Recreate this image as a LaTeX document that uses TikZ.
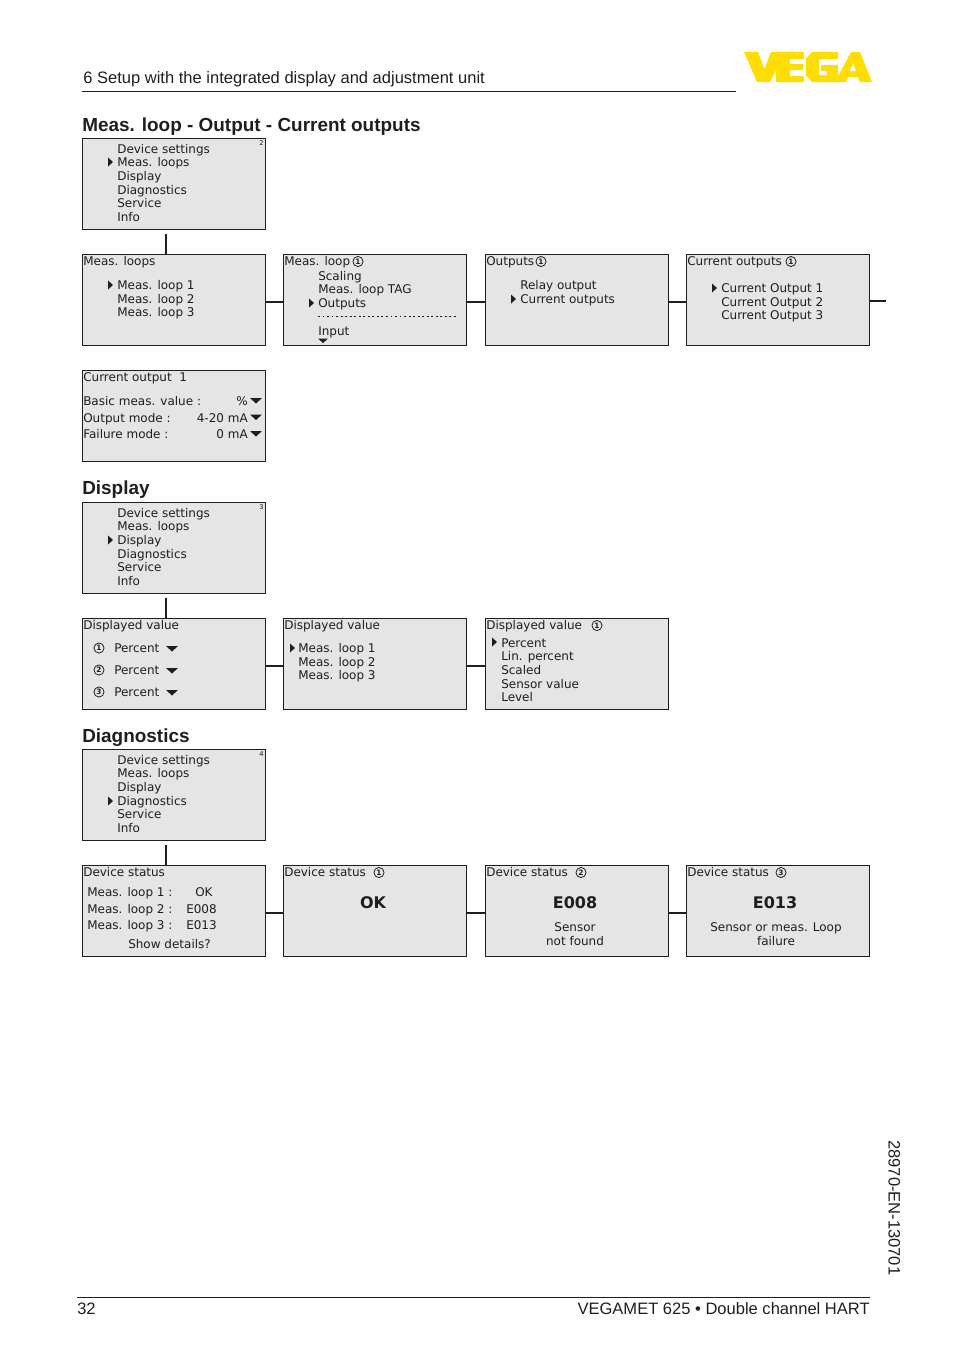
\documentclass[tikz,border=0pt]{standalone}
\usepackage{fontspec}
\setmainfont{Liberation Sans}
\newfontfamily\lcdfont{DejaVu Sans}
\definecolor{lcdgrey}{HTML}{E5E5E5}
\definecolor{inkc}{HTML}{1E1E1E}
\definecolor{vegay}{HTML}{FFDD00}
\newcounter{tn}
\tikzset{
 lcdbox/.style={draw=inkc,fill=lcdgrey,line width=1.05pt,minimum width=137.25pt,minimum height=68.25pt,inner sep=0pt,anchor=north west},
 lcdtext/.style={anchor=base west,inner sep=0pt,font=\lcdfont\fontsize{9}{9}\selectfont,text=inkc},
 lcdright/.style={lcdtext,anchor=base east},
 lcdmid/.style={lcdtext,anchor=base},
 lcdbig/.style={lcdtext,anchor=base,font=\lcdfont\bfseries\fontsize{12}{12}\selectfont},
 lcdsup/.style={lcdtext,anchor=center,font=\lcdfont\fontsize{5}{5}\selectfont},
 numc/.style={circle,draw=inkc,line width=.6pt,inner sep=0pt,minimum size=7.6pt,font=\lcdfont\bfseries\fontsize{5.5}{5.5}\selectfont,text=inkc},
 conn/.style={draw=inkc,line width=1.1pt},
 connb/.style={draw=inkc,line width=1.6pt},
 pagetext/.style={anchor=base west,inner sep=0pt,font=\fontsize{12.4}{12.4}\selectfont,text=inkc},
 headtext/.style={anchor=base west,inner sep=0pt,font=\bfseries\fontsize{14.2}{14.2}\selectfont,text=inkc},
 rulel/.style={draw=inkc,line width=.55pt},
 mark/.style={fill=inkc,draw=none},
}
\newcommand\lt[3]{\stepcounter{tn}\node[lcdtext] (t\arabic{tn}) at (#1,#2) {#3};}
\newcommand\lr[3]{\stepcounter{tn}\node[lcdright] (t\arabic{tn}) at (#1,#2) {#3};}
\newcommand\lm[3]{\stepcounter{tn}\node[lcdmid] (t\arabic{tn}) at (#1,#2) {#3};}
\newcommand\lb[3]{\stepcounter{tn}\node[lcdbig] (t\arabic{tn}) at (#1,#2) {#3};}
\newcommand\nc[3]{\stepcounter{tn}\node[numc] (t\arabic{tn}) at (#1,#2) {#3};}
\newcommand\rtri[2]{\fill[inkc] (#1,#2-4.5) -- (#1+5,#2) -- (#1,#2+4.5) -- cycle;}
\newcommand\dtri[2]{\fill[inkc] (#1,#2) -- (#1+12,#2) -- (#1+6,#2+5.5) -- cycle;}
\newcommand\mainmenu[4]{% name, top y, selected offset index, superscript
 \node[lcdbox] (#1) at (82,#2) {};
 \lt{117}{#2+15}{Device settings}
 \lt{117}{#2+28.7}{Meas. loops}
 \lt{117}{#2+42.4}{Display}
 \lt{117}{#2+56.1}{Diagnostics}
 \lt{117}{#2+69.8}{Service}
 \lt{117}{#2+83.5}{Info}
 \stepcounter{tn}\node[lcdsup] (t\arabic{tn}) at (261.5,#2+5) {#4};
}
\begin{document}
\begin{tikzpicture}[x=.75pt,y=-.75pt]
\useasboundingbox (0,0) rectangle (954,1354);
% header
\node[pagetext] (hdr) at (83,83) {6 Setup with the integrated display and adjustment unit};
\coordinate (hl) at (82,91); \coordinate (hr) at (736,91);
\draw[rulel] (hl) -- (hr);
% logo
\fill[vegay] (744,52) -- (758,52) -- (764.5,69) -- (771,52) -- (785,52) -- (770,82) -- (757,82) -- cycle;
\fill[vegay] (779,52) -- (804,52) -- (804,59) -- (790,59) -- (790,64) -- (803,64) -- (803,70) -- (790,70) -- (790,76) -- (804,76) -- (804,82) -- (776,82) -- (776,58) -- cycle;
\fill[vegay] (812,52) -- (838,52) -- (838,59) -- (819,59) -- (819,75) -- (827,75) -- (827,71) -- (821,71) -- (821,65) -- (838,65) -- (838,82) -- (812,82) -- (806,76) -- (806,58) -- cycle;
\fill[vegay] (851,52) -- (860,52) -- (872,82) -- (860,82) -- (858,77) -- (848,77) -- (846,82) -- (835,82) -- cycle;
\fill[white] (853,63.5) -- (856,71) -- (850,71) -- cycle;
% section 1
\node[headtext] (h1) at (82,131) {Meas. loop - Output - Current outputs};
\mainmenu{m1}{138}{1}{2}
\rtri{108}{162}
\coordinate (c1) at (166,234);
\node[lcdbox] (a1) at (82,254) {};
\node[lcdbox] (a2) at (283,254) {};
\node[lcdbox] (a3) at (485,254) {};
\node[lcdbox] (a4) at (686,254) {};
\node[lcdbox] (a5) at (82,370) {};
\coordinate (c2) at (886,301);
\draw[conn] (c1) -- (c1 |- a1.north);
\draw[conn] ([yshift=-1.5pt]a1.east) -- ([yshift=-1.5pt]a2.west);
\draw[conn] ([yshift=-1.5pt]a2.east) -- ([yshift=-1.5pt]a3.west);
\draw[conn] ([yshift=-1.5pt]a3.east) -- ([yshift=-1.5pt]a4.west);
\draw[conn] (a4.east |- c2) -- (c2);
\lt{83}{265}{Meas. loops}
\rtri{108}{285}
\lt{117}{289.5}{Meas. loop 1}\lt{117}{303.2}{Meas. loop 2}\lt{117}{316.9}{Meas. loop 3}
\lt{284}{265}{Meas. loop}\nc{358}{261.5}{1}
\lt{318}{280}{Scaling}\lt{318}{293.7}{Meas. loop TAG}\lt{318}{307.4}{Outputs}
\rtri{309}{303}
\draw[inkc,line width=1.4pt,dash pattern=on 1.4pt off 2pt] (318,316.5) -- (458,316.5);
\lt{318}{335}{Input}
\fill[inkc] (318,338.5) -- (328,338.5) -- (323,343) -- cycle;
\lt{486}{265}{Outputs}\nc{541}{261.5}{1}
\lt{520}{289.5}{Relay output}\lt{520}{303.2}{Current outputs}
\rtri{511}{299}
\lt{687}{265}{Current outputs}\nc{791}{261.5}{1}
\rtri{712}{288}
\lt{721}{292.5}{Current Output 1}\lt{721}{306.2}{Current Output 2}\lt{721}{319.9}{Current Output 3}
\lt{83}{381}{Current output\ \ 1}
\lt{83}{405.5}{Basic meas. value :}\lr{248}{405.5}{\%}\dtri{250}{398}
\lt{83}{422}{Output mode :}\lr{248}{422}{4-20 mA}\dtri{250}{414.5}
\lt{83}{438.5}{Failure mode :}\lr{248}{438.5}{0 mA}\dtri{250}{431}
% section 2
\node[headtext] (h2) at (82,494) {Display};
\mainmenu{m2}{502}{2}{3}
\rtri{108}{540}
\coordinate (c3) at (166,598);
\node[lcdbox] (b1) at (82,618) {};
\node[lcdbox] (b2) at (283,618) {};
\node[lcdbox] (b3) at (485,618) {};
\draw[conn] (c3) -- (c3 |- b1.north);
\draw[connb] ([yshift=-1.5pt]b1.east) -- ([yshift=-1.5pt]b2.west);
\draw[connb] ([yshift=-1.5pt]b2.east) -- ([yshift=-1.5pt]b3.west);
\lt{83}{629}{Displayed value}
\nc{99}{648}{1}\lt{114}{652}{Percent}\dtri{166}{646}
\nc{99}{670}{2}\lt{114}{674}{Percent}\dtri{166}{668}
\nc{99}{692}{3}\lt{114}{696}{Percent}\dtri{166}{690}
\lt{284}{629}{Displayed value}
\rtri{290}{648}
\lt{298}{652.5}{Meas. loop 1}\lt{298}{666.2}{Meas. loop 2}\lt{298}{679.9}{Meas. loop 3}
\lt{486}{629}{Displayed value}\nc{597}{625.5}{1}
\rtri{492}{642}
\lt{501}{647}{Percent}\lt{501}{660.7}{Lin. percent}\lt{501}{674.4}{Scaled}\lt{501}{688.1}{Sensor value}\lt{501}{701.8}{Level}
% section 3
\node[headtext] (h3) at (82,742) {Diagnostics};
\mainmenu{m3}{749}{3}{4}
\rtri{108}{801}
\coordinate (c4) at (166,845);
\node[lcdbox] (d1) at (82,865) {};
\node[lcdbox] (d2) at (283,865) {};
\node[lcdbox] (d3) at (485,865) {};
\node[lcdbox] (d4) at (686,865) {};
\draw[conn] (c4) -- (c4 |- d1.north);
\draw[conn] ([yshift=-1.5pt]d1.east) -- ([yshift=-1.5pt]d2.west);
\draw[conn] ([yshift=-1.5pt]d2.east) -- ([yshift=-1.5pt]d3.west);
\draw[conn] ([yshift=-1.5pt]d3.east) -- ([yshift=-1.5pt]d4.west);
\lt{83}{876}{Device status}
\lt{87}{896.5}{Meas. loop 1 :}\lt{195}{896.5}{OK}
\lt{87}{913}{Meas. loop 2 :}\lt{186}{913}{E008}
\lt{87}{929.5}{Meas. loop 3 :}\lt{186}{929.5}{E013}
\lt{128}{948}{Show details?}
\lt{284}{876}{Device status}\nc{379}{872.5}{1}
\lb{373}{908}{OK}
\lt{486}{876}{Device status}\nc{581}{872.5}{2}
\lb{575}{908}{E008}
\lm{575}{931}{Sensor}\lm{575}{945}{not found}
\lt{687}{876}{Device status}\nc{781}{872.5}{3}
\lb{775}{908}{E013}
\lm{776}{931}{Sensor or meas. Loop}\lm{776}{945}{failure}
% footer
\coordinate (fl) at (77,1297); \coordinate (fr) at (870,1297);
\draw[rulel] (fl) -- (fr);
\node[pagetext] (pg) at (77,1314) {32};
\node[pagetext,anchor=base east] (ft) at (870,1314) {VEGAMET 625 • Double channel HART};
\node[pagetext,anchor=base west,rotate=-90] (doc) at (888.5,1140) {28970-EN-130701};
\end{tikzpicture}
\end{document}
